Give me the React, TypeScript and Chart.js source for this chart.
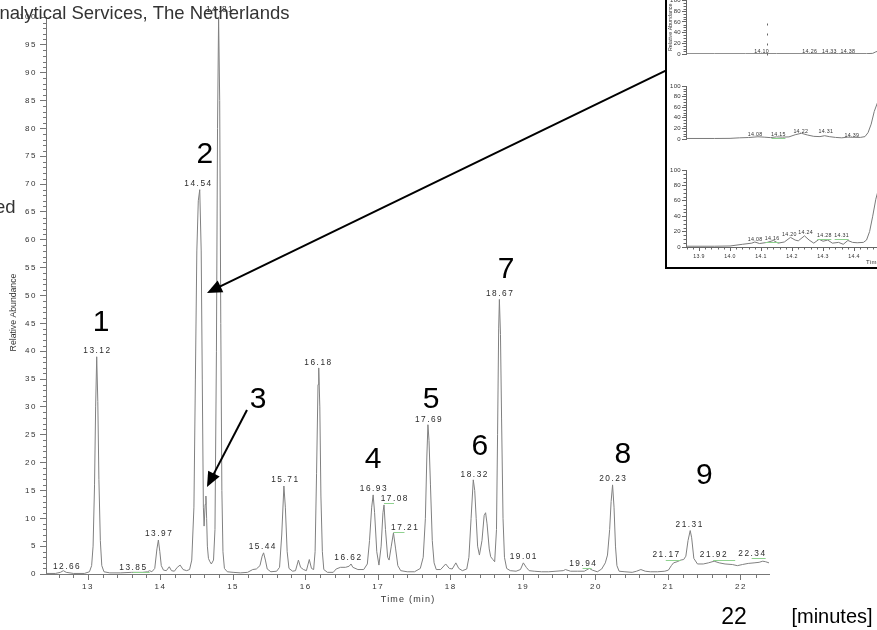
import { useEffect, useRef } from "react";
import { Chart, registerables } from "chart.js";

Chart.register(...registerables);

const FONT = '"Liberation Sans", Arial, Helvetica, sans-serif';

// ---------------- DATA ----------------
// main chromatogram: [retention time (min), relative abundance (%)]
const mainTrace: [number, number][] = [
  [12.421, 0.1], [12.55, 0.1], [12.62, 0.3], [12.66, 0.6], [12.7, 0.3], [12.8, 0.1], [12.95, 0.1],
  [13.02, 0.4], [13.05, 1.5], [13.07, 5], [13.09, 16], [13.105, 30], [13.12, 39], [13.135, 31],
  [13.15, 17], [13.17, 6], [13.19, 1.5], [13.22, 0.4], [13.3, 0.2], [13.45, 0.2], [13.6, 0.3],
  [13.75, 0.3], [13.82, 0.4], [13.85, 0.6], [13.88, 0.4], [13.92, 1.0], [13.95, 4.5], [13.97, 6.1],
  [13.99, 4.0], [14.01, 1.5], [14.04, 0.7], [14.08, 0.6], [14.12, 1.3], [14.15, 0.6], [14.19, 0.5],
  [14.23, 1.2], [14.27, 1.6], [14.31, 0.8], [14.36, 0.6], [14.4, 0.8], [14.43, 2.5], [14.46, 12],
  [14.48, 35], [14.5, 58], [14.52, 67], [14.54, 69], [14.56, 58], [14.575, 35], [14.59, 12],
  [14.6, 8.6], [14.615, 12.5], [14.625, 14], [14.635, 10], [14.645, 5], [14.66, 2.8], [14.68, 2.2],
  [14.7, 1.8], [14.73, 2.5], [14.75, 8], [14.77, 40], [14.785, 80], [14.8, 100], [14.815, 85],
  [14.83, 45], [14.845, 15], [14.86, 4], [14.88, 1], [14.92, 0.4], [15.0, 0.3], [15.1, 0.2],
  [15.2, 0.3], [15.27, 0.8], [15.32, 0.9], [15.37, 1.5], [15.4, 3.2], [15.42, 3.8], [15.445, 2.5],
  [15.47, 0.9], [15.52, 0.4], [15.6, 0.5], [15.64, 1.2], [15.67, 7], [15.7, 15.8], [15.72, 12],
  [15.745, 4], [15.77, 1], [15.82, 0.5], [15.86, 0.6], [15.9, 2.5], [15.93, 1.2], [15.97, 0.8],
  [16.01, 0.6], [16.05, 2.6], [16.08, 1.0], [16.11, 0.8], [16.13, 4], [16.15, 18], [16.17, 34],
  [16.18, 37], [16.195, 30], [16.21, 14], [16.23, 4], [16.25, 0.8], [16.3, 0.3], [16.38, 0.3],
  [16.42, 0.9], [16.48, 1.2], [16.55, 1.2], [16.6, 1.4], [16.625, 1.8], [16.65, 1.2], [16.72, 0.8],
  [16.8, 0.8], [16.85, 1.8], [16.88, 6], [16.91, 12], [16.93, 14.2], [16.95, 11], [16.98, 4],
  [17.01, 1.6], [17.04, 5], [17.065, 11], [17.08, 12.4], [17.1, 8], [17.13, 3], [17.15, 2.5],
  [17.18, 5], [17.21, 7.4], [17.24, 4.5], [17.27, 1.5], [17.31, 0.6], [17.4, 0.4], [17.5, 0.4],
  [17.58, 1], [17.62, 3], [17.65, 10], [17.67, 21], [17.685, 26.8], [17.7, 24], [17.72, 16],
  [17.745, 6], [17.77, 2], [17.8, 0.8], [17.86, 0.8], [17.93, 1.8], [17.98, 1.0], [18.02, 0.9],
  [18.07, 2.0], [18.11, 1.0], [18.16, 0.6], [18.22, 0.9], [18.25, 3], [18.28, 10], [18.31, 16.9],
  [18.33, 15], [18.35, 10], [18.37, 5], [18.395, 3.4], [18.43, 6], [18.46, 10.5], [18.48, 11],
  [18.5, 9], [18.53, 4.5], [18.55, 3.1], [18.58, 2.6], [18.605, 2.2], [18.63, 8], [18.645, 25],
  [18.66, 44], [18.67, 49.3], [18.685, 43], [18.7, 28], [18.72, 10], [18.74, 3], [18.77, 1],
  [18.82, 0.6], [18.9, 0.5], [18.96, 0.8], [19.0, 2.0], [19.04, 1.2], [19.08, 0.6], [19.15, 0.5],
  [19.25, 0.4], [19.35, 0.4], [19.45, 0.5], [19.55, 0.6], [19.58, 0.8], [19.65, 0.5], [19.75, 0.5],
  [19.84, 0.5], [19.91, 1.0], [19.95, 0.7], [20.02, 0.4], [20.08, 0.9], [20.13, 2], [20.16, 3.4],
  [20.19, 8], [20.21, 13], [20.23, 16], [20.25, 12], [20.27, 5], [20.29, 1.5], [20.32, 0.5],
  [20.4, 0.4], [20.5, 0.3], [20.56, 0.5], [20.62, 0.8], [20.68, 0.5], [20.75, 0.4], [20.85, 0.4],
  [20.95, 0.5], [21.0, 0.7], [21.04, 1.5], [21.07, 2.0], [21.12, 2.2], [21.17, 2.5], [21.21, 2.6],
  [21.24, 3.2], [21.27, 6], [21.3, 7.8], [21.32, 6.5], [21.35, 2.8], [21.4, 1.8], [21.48, 1.8],
  [21.55, 2.0], [21.63, 2.3], [21.7, 2.0], [21.78, 1.8], [21.88, 1.7], [21.95, 1.5], [22.02, 1.7],
  [22.1, 1.9], [22.18, 2.0], [22.25, 2.1], [22.3, 2.3], [22.34, 2.2], [22.386, 2.0],
];

const xTickValues = [13, 14, 15, 16, 17, 18, 19, 20, 21, 22];
const yTickValues = [0, 5, 10, 15, 20, 25, 30, 35, 40, 45, 50, 55, 60, 65, 70, 75, 80, 85, 90, 95, 100];

// peak annotations: [label text, retention time]
const peakLabels: [string, number][] = [
  ["12.66", 12.66], ["13.12", 13.12], ["13.85", 13.85], ["13.97", 13.97], ["14.54", 14.54],
  ["14.81", 14.81], ["15.44", 15.44], ["15.71", 15.71], ["16.18", 16.18], ["16.62", 16.62],
  ["16.93", 16.93], ["17.08", 17.08], ["17.21", 17.21], ["17.69", 17.69], ["18.32", 18.32],
  ["18.67", 18.67], ["19.01", 19.01], ["19.94", 19.94], ["20.23", 20.23], ["21.17", 21.17],
  ["21.31", 21.31], ["21.92", 21.92], ["22.34", 22.34],
];

const compoundNumbers = ["1", "2", "3", "4", "5", "6", "7", "8", "9"];

// inset (zoom 13.9 - 14.5 min), three traces
const insetTrace1: [number, number][] = [
  [13.858, 0.6], [13.95, 0.6], [14.05, 0.6], [14.15, 0.7], [14.25, 0.6], [14.35, 0.7], [14.44, 0.7],
  [14.46, 1.2], [14.47, 4], [14.48, 6], [14.5, 12], [14.53, 30], [14.548, 45],
];
const insetTrace2: [number, number][] = [
  [13.858, 1], [13.95, 1], [14.0, 1.2], [14.03, 2.2], [14.06, 2.8], [14.09, 4.2], [14.11, 3.5],
  [14.13, 2.6], [14.15, 4], [14.17, 3.5], [14.19, 4], [14.21, 8], [14.23, 10.8], [14.25, 7.5],
  [14.27, 5], [14.29, 4.5], [14.305, 6.2], [14.32, 4.5], [14.34, 3], [14.36, 2.2], [14.38, 3.5],
  [14.4, 3.2], [14.42, 3], [14.435, 4.5], [14.445, 12], [14.455, 28], [14.465, 52], [14.475, 68],
  [14.49, 88], [14.51, 100], [14.548, 100],
];
const insetTrace3: [number, number][] = [
  [13.858, 1], [13.95, 1], [14.0, 1.3], [14.04, 3.5], [14.07, 5], [14.08, 6.5], [14.095, 4.5],
  [14.12, 6], [14.14, 8.5], [14.155, 5], [14.175, 6.5], [14.195, 12.5], [14.21, 9], [14.22, 8],
  [14.24, 14.5], [14.255, 9], [14.27, 5], [14.287, 10], [14.3, 7.5], [14.315, 9], [14.33, 5],
  [14.35, 6], [14.365, 3.5], [14.38, 8.5], [14.395, 6], [14.41, 5.5], [14.43, 6], [14.44, 9],
  [14.45, 20], [14.46, 40], [14.47, 62], [14.485, 85], [14.5, 100], [14.548, 100],
];
const insetXTicks = [13.9, 14.0, 14.1, 14.2, 14.3, 14.4, 14.5];
const insetYTicks = [0, 20, 40, 60, 80, 100];
const insetLabels1 = ["14.10", "14.26", "14.33", "14.38"];
const insetLabels2 = ["14.08", "14.15", "14.22", "14.31", "14.39"];
const insetLabels3 = ["14.08", "14.16", "14.20", "14.24", "14.28", "14.31"];

// ---------------- STYLE / PLACEMENT ----------------
// [dx px, dy px from apex, green connector]
const mainLabelStyle: [number, number, boolean][] = [
  [3, -4, false], [0, -6, false], [-17, -3, true], [0, -6, false], [-2, -6, false],
  [0, -7, false], [-3, -6, false], [0, -6, false], [-1, -5, false], [-3, -6, false],
  [0, -6, false], [10, -6, true], [11, -5.5, true], [0, -5.5, false], [0, -5, false],
  [0, -6, false], [-1, -6, false], [-9, -5, true], [0, -6, false], [-15, -5, true],
  [-2, -5.5, false], [-22, -10, true], [-14, -8, true],
];
// compound number anchor in axis units [t, abundance]
const compoundPos: [number, number][] = [
  [13.179, 45.1], [14.612, 75.25], [15.343, 31.25], [16.928, 20.47], [17.727, 31.25],
  [18.402, 22.81], [18.761, 54.6], [20.373, 21.37], [21.496, 17.6],
];
// arrows in axis units [t1, v1, t2, v2]
const arrowPos: [number, number, number, number][] = [
  [20.97, 90.4, 14.64, 50.47],
  [15.191, 29.45, 14.64, 15.63],
];
// inset label anchors [t, abundance, green]
const insetPos1: [number, number, boolean][] = [
  [14.102, 4.8, false], [14.257, 4.8, false], [14.32, 4.8, false], [14.38, 4.8, false],
];
const insetPos2: [number, number, boolean][] = [
  [14.081, 7.9, false], [14.156, 7.9, true], [14.228, 14.9, false], [14.309, 13.6, false], [14.393, 7, false],
];
const insetPos3: [number, number, boolean][] = [
  [14.081, 9.1, false], [14.136, 11.3, true], [14.191, 15.6, false], [14.244, 18.6, false],
  [14.304, 14.7, true], [14.36, 14.3, true],
];

// ---------------- helpers ----------------
function valueAt(trace: [number, number][], t: number) {
  for (let i = 1; i < trace.length; i++) {
    const [t0, v0] = trace[i - 1];
    const [t1, v1] = trace[i];
    if (t >= t0 && t <= t1) return v0 + ((v1 - v0) * (t - t0)) / (t1 - t0);
  }
  return 0;
}
function peakTop(trace: [number, number][], t: number) {
  let m = valueAt(trace, t);
  for (const [pt, pv] of trace) if (Math.abs(pt - t) <= 0.035 && pv > m) m = pv;
  return m;
}
function drawArrow(ctx: CanvasRenderingContext2D, x1: number, y1: number, x2: number, y2: number) {
  const a = Math.atan2(y2 - y1, x2 - x1);
  const L = 15;
  const W = 6.5;
  const bx = x2 - L * Math.cos(a);
  const by = y2 - L * Math.sin(a);
  ctx.beginPath();
  ctx.moveTo(x1, y1);
  ctx.lineTo(bx + 2 * Math.cos(a), by + 2 * Math.sin(a));
  ctx.stroke();
  ctx.beginPath();
  ctx.moveTo(x2, y2);
  ctx.lineTo(bx + W * Math.sin(a), by - W * Math.cos(a));
  ctx.lineTo(bx - W * Math.sin(a), by + W * Math.cos(a));
  ctx.closePath();
  ctx.fill();
}

const mainOverlay = {
  id: "mainOverlay",
  beforeDraw(chart: any) {
    chart.ctx.letterSpacing = "1.5px";
  },
  afterDraw(chart: any) {
    const ctx: any = chart.ctx;
    const x = chart.scales.x;
    const y = chart.scales.y;
    ctx.save();
    ctx.letterSpacing = "0px";
    // minor ticks
    ctx.strokeStyle = "#777";
    ctx.lineWidth = 1;
    ctx.beginPath();
    for (let i = 1; i < 100; i++) {
      if (i % 5 === 0) continue;
      const py = Math.round(y.getPixelForValue(i)) + 0.5;
      ctx.moveTo(chart.chartArea.left - 3, py);
      ctx.lineTo(chart.chartArea.left, py);
    }
    for (let k = Math.ceil(x.min * 5); k <= Math.floor(x.max * 5); k++) {
      if (k % 5 === 0) continue;
      const px = Math.round(x.getPixelForValue(k / 5)) + 0.5;
      ctx.moveTo(px, chart.chartArea.bottom);
      ctx.lineTo(px, chart.chartArea.bottom + 4);
    }
    ctx.stroke();

    // axis titles
    ctx.fillStyle = "#333";
    ctx.font = `8.7px ${FONT}`;
    ctx.textAlign = "center";
    ctx.textBaseline = "middle";
    ctx.save();
    ctx.translate(14, (chart.chartArea.top + chart.chartArea.bottom) / 2 + 17);
    ctx.rotate(-Math.PI / 2);
    ctx.fillText("Relative Abundance", 0, 0);
    ctx.restore();
    ctx.letterSpacing = "1.2px";
    ctx.font = `9px ${FONT}`;
    ctx.fillText("Time (min)", (chart.chartArea.left + chart.chartArea.right) / 2 + 0.6, 599.5);

    // peak labels
    ctx.font = `8.3px ${FONT}`;
    ctx.letterSpacing = "1.5px";
    peakLabels.forEach(([txt, rt], i) => {
      const [dx, dy, green] = mainLabelStyle[i];
      const px = x.getPixelForValue(rt);
      const py = y.getPixelForValue(peakTop(mainTrace, rt));
      const lx = px + dx;
      const ly = py + dy;
      ctx.fillStyle = "#2a2a2a";
      ctx.fillText(txt, lx + 0.75, ly);
      if (green) {
        ctx.strokeStyle = "#8fd18f";
        ctx.lineWidth = 1;
        ctx.beginPath();
        ctx.moveTo(lx, Math.round(ly + 4.5) + 0.5);
        ctx.lineTo(px, Math.round(ly + 4.5) + 0.5);
        ctx.stroke();
      }
    });

    // compound numbers
    ctx.letterSpacing = "0px";
    ctx.fillStyle = "#000";
    ctx.font = `30px ${FONT}`;
    compoundNumbers.forEach((n, i) => {
      const [t, v] = compoundPos[i];
      ctx.fillText(n, x.getPixelForValue(t), y.getPixelForValue(v));
    });

    // arrows
    ctx.strokeStyle = "#000";
    ctx.fillStyle = "#000";
    ctx.lineWidth = 2;
    arrowPos.forEach(([t1, v1, t2, v2]) => {
      drawArrow(ctx, x.getPixelForValue(t1), y.getPixelForValue(v1), x.getPixelForValue(t2), y.getPixelForValue(v2));
    });

    // header / side texts (cropped)
    ctx.fillStyle = "#333";
    ctx.font = `18.5px ${FONT}`;
    ctx.textAlign = "left";
    ctx.textBaseline = "alphabetic";
    const wA = ctx.measureText("A").width;
    ctx.fillText("Analytical Services, The Netherlands", -wA - 0.5, 18.5);
    ctx.textAlign = "right";
    ctx.fillText("ed", 15.5, 212.5);

    // bottom right
    ctx.fillStyle = "#000";
    ctx.textAlign = "center";
    ctx.textBaseline = "middle";
    ctx.font = `23px ${FONT}`;
    ctx.fillText("22", 734, 618);
    ctx.font = `20px ${FONT}`;
    ctx.fillText("[minutes]", 832, 617);
    ctx.restore();
  },
};

function insetOverlay(
  labels: string[],
  pos: [number, number, boolean][],
  showX: boolean,
  extra?: (chart: any) => void
) {
  return {
    id: "insetOverlay",
    beforeDraw(chart: any) {
      chart.ctx.letterSpacing = "0.3px";
    },
    afterDraw(chart: any) {
      const ctx: any = chart.ctx;
      const x = chart.scales.x;
      const y = chart.scales.y;
      const area = chart.chartArea;
      ctx.save();
      ctx.strokeStyle = "#666";
      ctx.lineWidth = 1;
      ctx.beginPath();
      for (let v = 5; v < 100; v += 5) {
        if (v % 20 === 0) continue;
        const py = Math.round(y.getPixelForValue(v)) + 0.5;
        ctx.moveTo(area.left - 2.5, py);
        ctx.lineTo(area.left, py);
      }
      if (showX) {
        for (let k = Math.ceil(x.min * 50); k <= Math.floor(x.max * 50); k++) {
          if (k % 5 === 0) continue;
          const px = Math.round(x.getPixelForValue(k / 50)) + 0.5;
          ctx.moveTo(px, area.bottom);
          ctx.lineTo(px, area.bottom + 2.5);
        }
      }
      ctx.stroke();
      ctx.font = `5.3px ${FONT}`;
      ctx.textAlign = "center";
      ctx.textBaseline = "middle";
      labels.forEach((txt, i) => {
        const [t, v, green] = pos[i];
        const lx = x.getPixelForValue(t);
        const ly = y.getPixelForValue(v);
        ctx.fillStyle = "#333";
        ctx.fillText(txt, lx, ly);
        if (green) {
          ctx.strokeStyle = "#8fd18f";
          ctx.beginPath();
          ctx.moveTo(lx - 7, Math.round(ly + 3.5) + 0.5);
          ctx.lineTo(lx + 7, Math.round(ly + 3.5) + 0.5);
          ctx.stroke();
        }
      });
      if (extra) extra(chart);
      ctx.restore();
    },
  };
}

function makeInset(
  canvas: HTMLCanvasElement,
  trace: [number, number][],
  labels: string[],
  pos: [number, number, boolean][],
  padTop: number,
  padBottom: number,
  showX: boolean,
  extra?: (chart: any) => void
) {
  return new Chart(canvas, {
    type: "line",
    data: {
      datasets: [
        {
          data: trace.map(([t, v]) => ({ x: t, y: v })),
          borderColor: "#7a7a7a",
          borderWidth: 1,
          pointRadius: 0,
          tension: 0,
          fill: false,
        },
      ],
    },
    options: {
      animation: false,
      responsive: false,
      devicePixelRatio: 1,
      events: [],
      layout: { padding: { left: 0, right: 0, top: padTop, bottom: padBottom } },
      plugins: { legend: { display: false }, tooltip: { enabled: false } },
      scales: {
        x: {
          type: "linear",
          min: 13.858,
          max: 14.548,
          display: showX,
          afterBuildTicks: (s: any) => {
            s.ticks = insetXTicks.map((v) => ({ value: v }));
          },
          afterFit: (s: any) => {
            s.height = 23;
          },
          grid: { drawOnChartArea: false, tickLength: 4, color: "#666" },
          border: { display: true, color: "#666" },
          ticks: {
            font: { size: 5.3, family: FONT },
            color: "#333",
            padding: 2,
            maxRotation: 0,
            autoSkip: false,
            callback: (v: any) => Number(v).toFixed(1),
          },
        },
        y: {
          min: 0,
          max: 100,
          afterBuildTicks: (s: any) => {
            s.ticks = insetYTicks.map((v) => ({ value: v }));
          },
          afterFit: (s: any) => {
            s.width = 18;
          },
          grid: { drawOnChartArea: false, tickLength: 4, color: "#666" },
          border: { display: true, color: "#666" },
          ticks: { font: { size: 6, family: FONT }, color: "#333", padding: 1, autoSkip: false },
        },
      },
    } as any,
    plugins: [insetOverlay(labels, pos, showX, extra)],
  });
}

export default function App() {
  const mainRef = useRef<HTMLCanvasElement>(null);
  const p1Ref = useRef<HTMLCanvasElement>(null);
  const p2Ref = useRef<HTMLCanvasElement>(null);
  const p3Ref = useRef<HTMLCanvasElement>(null);

  useEffect(() => {
    const charts: Chart[] = [];
    if (mainRef.current) {
      charts.push(
        new Chart(mainRef.current, {
          type: "line",
          data: {
            datasets: [
              {
                data: mainTrace.map(([t, v]) => ({ x: t, y: v })),
                borderColor: "#808080",
                borderWidth: 1,
                pointRadius: 0,
                tension: 0,
                fill: false,
              },
            ],
          },
          options: {
            animation: false,
            responsive: false,
            devicePixelRatio: 1,
            events: [],
            layout: { padding: { left: 0, right: 108, top: 17, bottom: 0 } },
            plugins: { legend: { display: false }, tooltip: { enabled: false } },
            scales: {
              x: {
                type: "linear",
                min: 12.421,
                max: 22.386,
                afterBuildTicks: (s: any) => {
                  s.ticks = xTickValues.map((v) => ({ value: v }));
                },
                afterFit: (s: any) => {
                  s.height = 56;
                },
                grid: { drawOnChartArea: false, tickLength: 6, color: "#777" },
                border: { display: true, color: "#777", width: 1 },
                ticks: {
                  font: { size: 8, family: FONT },
                  color: "#333",
                  padding: 2,
                  maxRotation: 0,
                  autoSkip: false,
                  callback: (v: any) => String(v),
                },
              },
              y: {
                min: 0,
                max: 100,
                afterBuildTicks: (s: any) => {
                  s.ticks = yTickValues.map((v) => ({ value: v }));
                },
                afterFit: (s: any) => {
                  s.width = 46;
                },
                grid: { drawOnChartArea: false, tickLength: 6, color: "#777" },
                border: { display: true, color: "#777", width: 1 },
                ticks: {
                  font: { size: 8, family: FONT },
                  color: "#333",
                  padding: 3,
                  autoSkip: false,
                },
              },
            },
          } as any,
          plugins: [mainOverlay],
        })
      );
    }
    if (p1Ref.current) {
      charts.push(
        makeInset(p1Ref.current, insetTrace1, insetLabels1, insetPos1, 10.5, 13, false, (chart: any) => {
          const ctx = chart.ctx;
          const x = chart.scales.x;
          const y = chart.scales.y;
          ctx.strokeStyle = "#666";
          ctx.lineWidth = 1;
          ctx.setLineDash([2, 8]);
          const px = Math.round(x.getPixelForValue(14.12)) + 0.5;
          ctx.beginPath();
          ctx.moveTo(px, y.getPixelForValue(57));
          ctx.lineTo(px, y.getPixelForValue(-14.5));
          ctx.stroke();
          ctx.setLineDash([]);
          ctx.save();
          ctx.letterSpacing = "0px";
          ctx.fillStyle = "#333";
          ctx.font = `5.3px ${FONT}`;
          ctx.textAlign = "center";
          ctx.textBaseline = "middle";
          ctx.translate(3, (chart.chartArea.top + chart.chartArea.bottom) / 2);
          ctx.rotate(-Math.PI / 2);
          ctx.fillText("Relative Abundance", 0, 0);
          ctx.restore();
        })
      );
    }
    if (p2Ref.current) {
      charts.push(makeInset(p2Ref.current, insetTrace2, insetLabels2, insetPos2, 8, 6, false));
    }
    if (p3Ref.current) {
      charts.push(
        makeInset(p3Ref.current, insetTrace3, insetLabels3, insetPos3, 10, 0, true, (chart: any) => {
          const ctx = chart.ctx;
          ctx.fillStyle = "#333";
          ctx.font = `6px ${FONT}`;
          ctx.textAlign = "left";
          ctx.textBaseline = "middle";
          ctx.fillText("Time (min)", 198, 102);
        })
      );
    }
    return () => charts.forEach((c) => c.destroy());
  }, []);

  return (
    <div
      style={{
        position: "fixed",
        left: 0,
        top: 0,
        width: 877,
        height: 630,
        overflow: "hidden",
        background: "#fff",
      }}
    >
      <canvas ref={mainRef} width={877} height={630} style={{ position: "absolute", left: 0, top: 0 }} />
      <div
        style={{
          position: "absolute",
          left: 665,
          top: -10,
          width: 300,
          height: 279,
          boxSizing: "border-box",
          borderLeft: "2px solid #000",
          borderBottom: "2px solid #000",
          background: "#fff",
        }}
      />
      <canvas ref={p1Ref} width={232} height={100} style={{ position: "absolute", left: 668, top: -10 }} />
      <canvas ref={p2Ref} width={232} height={90} style={{ position: "absolute", left: 668, top: 78 }} />
      <canvas ref={p3Ref} width={232} height={110} style={{ position: "absolute", left: 668, top: 160 }} />
    </div>
  );
}
